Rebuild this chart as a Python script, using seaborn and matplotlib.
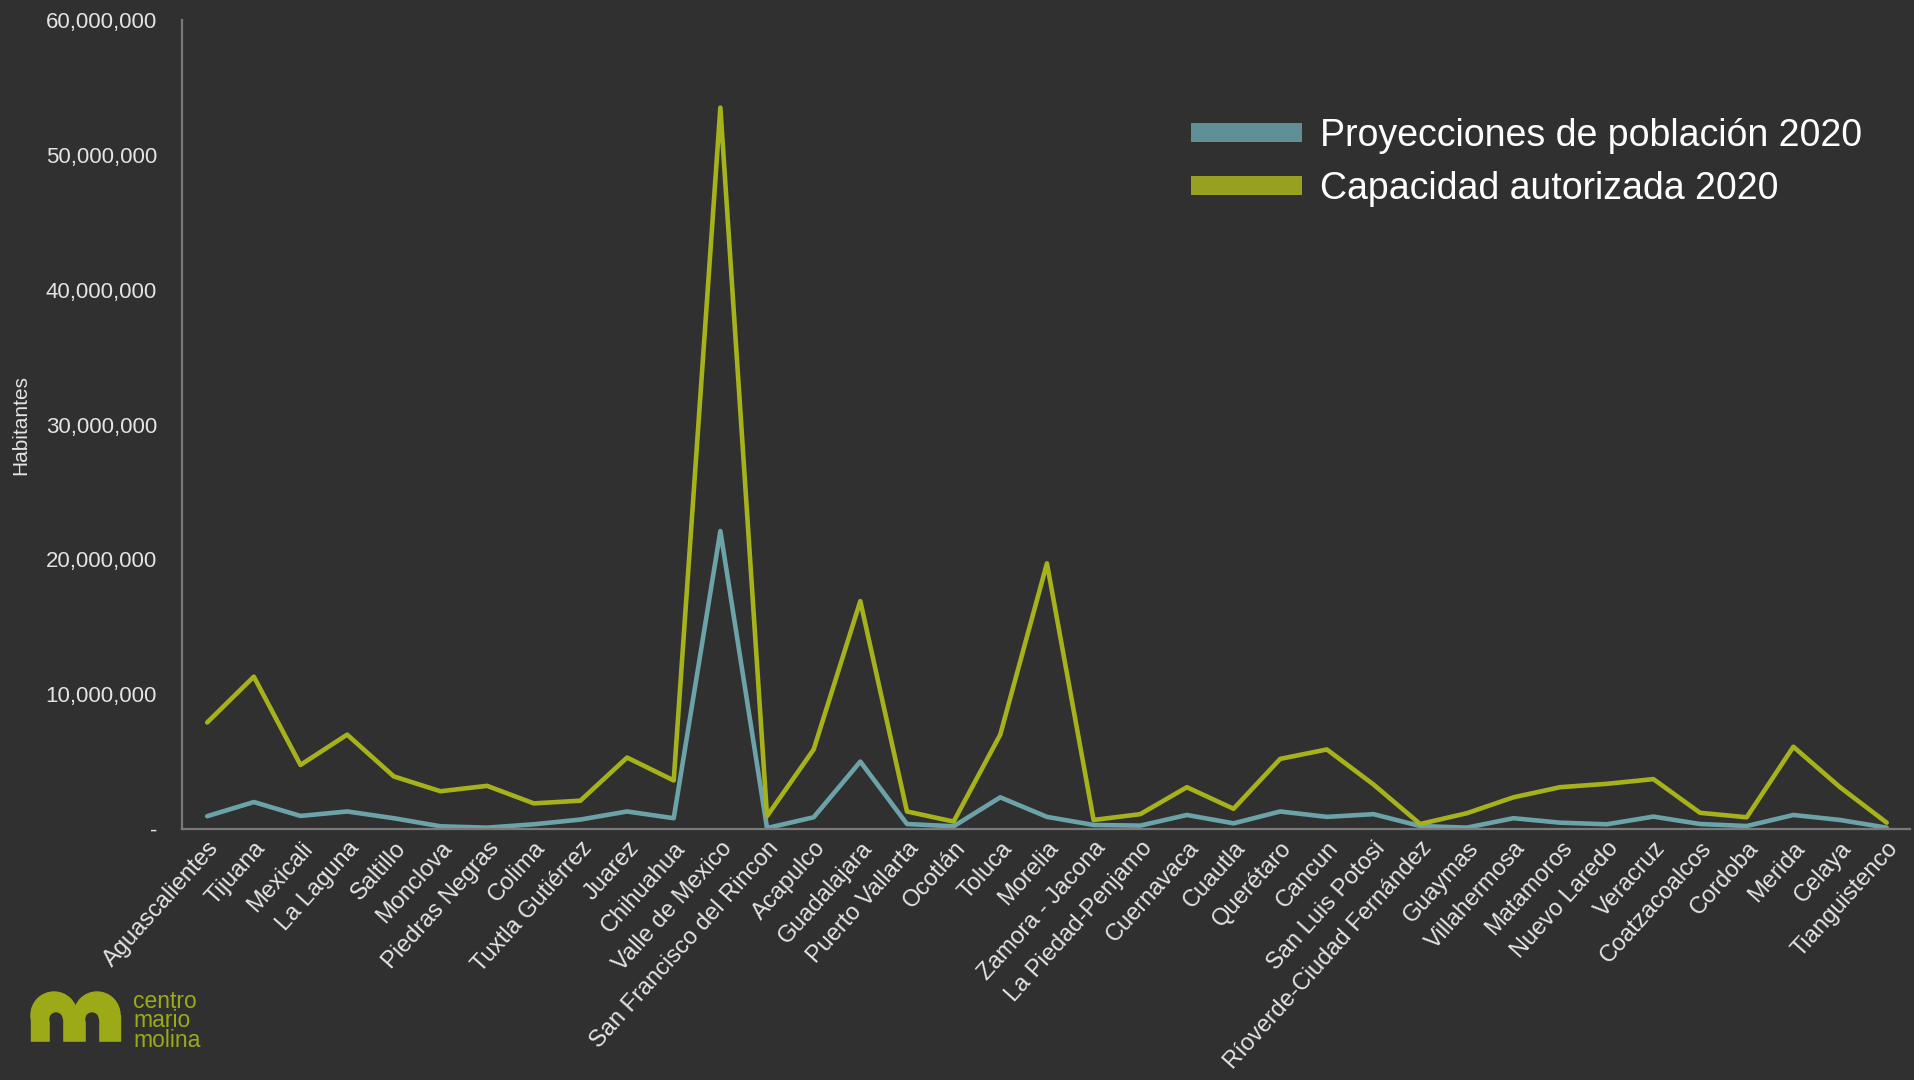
# ====================
#  LIBRARIES
# ====================

import pandas as pd
import numpy as np

import matplotlib
matplotlib.use('Agg')
import matplotlib.pyplot as plt
from matplotlib.patches import Patch, Ellipse, Circle, Rectangle
import seaborn as sns

# ====================
#  DATA
# ====================

ciudades = [
    'Aguascalientes', 'Tijuana', 'Mexicali', 'La Laguna', 'Saltillo', 'Monclova',
    'Piedras Negras', 'Colima', 'Tuxtla Gutiérrez', 'Juarez', 'Chihuahua',
    'Valle de Mexico', 'San Francisco del Rincon', 'Acapulco', 'Guadalajara',
    'Puerto Vallarta', 'Ocotlán', 'Toluca', 'Morelia', 'Zamora - Jacona',
    'La Piedad-Penjamo', 'Cuernavaca', 'Cuautla', 'Querétaro', 'Cancun',
    'San Luis Potosi', 'Ríoverde-Ciudad Fernández', 'Guaymas', 'Villahermosa',
    'Matamoros', 'Nuevo Laredo', 'Veracruz', 'Coatzacoalcos', 'Cordoba',
    'Merida', 'Celaya', 'Tianguistenco',
]

poblacion_2020 = [
    950000, 2000000, 970000, 1300000, 800000, 200000, 100000, 350000, 700000,
    1300000, 800000, 22100000, 70000, 870000, 5000000, 370000, 200000, 2350000,
    900000, 300000, 250000, 1040000, 420000, 1300000, 900000, 1100000, 220000,
    100000, 800000, 470000, 350000, 920000, 370000, 220000, 1040000, 670000,
    100000,
]

capacidad_2020 = [
    7900000, 11300000, 4750000, 7000000, 3900000, 2800000, 3200000, 1900000,
    2100000, 5300000, 3600000, 53500000, 950000, 5900000, 16900000, 1300000,
    550000, 7000000, 19700000, 670000, 1100000, 3100000, 1500000, 5200000,
    5900000, 3300000, 370000, 1170000, 2350000, 3100000, 3350000, 3700000,
    1200000, 870000, 6100000, 3100000, 470000,
]

series_names = ['Proyecciones de población 2020', 'Capacidad autorizada 2020']
y_ticks = [0, 10000000, 20000000, 30000000, 40000000, 50000000, 60000000]
y_tick_labels = ['-', '10,000,000', '20,000,000', '30,000,000',
                 '40,000,000', '50,000,000', '60,000,000']

# colours
BG = '#303030'
TEXT = '#E4E4E4'
LINE_COLORS = {series_names[0]: '#6BA3A9', series_names[1]: '#A6B21C'}
LEGEND_COLORS = ['#5E9096', '#97A020']
LOGO = '#9DAA18'

# ====================
#  PLOT
# ====================

sns.set_theme(style='dark', rc={'axes.facecolor': BG, 'figure.facecolor': BG})
plt.rcParams['font.family'] = ['Liberation Sans', 'DejaVu Sans']

df = pd.DataFrame({
    'idx': list(range(len(ciudades))) * 2,
    'valor': poblacion_2020 + capacidad_2020,
    'serie': [series_names[0]] * len(ciudades) + [series_names[1]] * len(ciudades),
})

fig = plt.figure(figsize=(19.15, 10.8), dpi=100)
ax = fig.add_axes([182 / 1915, 1 - 829 / 1080, (1910 - 182) / 1915, (829 - 20) / 1080])

sns.lineplot(data=df, x='idx', y='valor', hue='serie', palette=LINE_COLORS,
             linewidth=3.3, ax=ax, legend=False)

ax.set_xlim(-0.54, len(ciudades) - 0.5)
ax.set_ylim(0, 60000000)
ax.set_xlabel('')
ax.set_ylabel('')

ax.set_yticks(y_ticks)
ax.set_yticklabels(y_tick_labels)
ax.set_xticks(range(len(ciudades)))
ax.set_xticklabels(ciudades, rotation=48, ha='right', va='top', rotation_mode='anchor')

ax.tick_params(axis='y', length=0, pad=18, labelsize=16, colors=TEXT)
ax.tick_params(axis='x', length=0, pad=6, labelsize=17, colors=TEXT)

for side in ['top', 'right']:
    ax.spines[side].set_visible(False)
for side in ['left', 'bottom']:
    ax.spines[side].set_visible(True)
    ax.spines[side].set_color('#7A7A7A')
    ax.spines[side].set_linewidth(1.6)
ax.grid(False)

fig.text(21 / 1915, 1 - 425 / 1080, 'Habitantes', rotation=90,
         ha='center', va='center', fontsize=15, color=TEXT)

# legend
handles = [Patch(facecolor=c, edgecolor='none') for c in LEGEND_COLORS]
fig.legend(handles, series_names, loc='upper left',
           bbox_to_anchor=(1191 / 1915, 1 - 118 / 1080), frameon=False,
           fontsize=27, handlelength=2.95, handleheight=0.42,
           handletextpad=0.5, labelspacing=0.45, borderpad=0, borderaxespad=0,
           labelcolor='white')

# logo
lax = fig.add_axes([30 / 1915, 1 - 1045 / 1080, 92 / 1915, 55 / 1080])
lax.set_xlim(0, 92)
lax.set_ylim(0, 55)
lax.axis('off')
lax.add_patch(Ellipse((24, 30), 46, 46, color=LOGO))
lax.add_patch(Ellipse((67, 30), 46, 46, color=LOGO))
lax.add_patch(Rectangle((1, 3), 89, 27, color=LOGO))
lax.add_patch(Rectangle((20, 0), 12, 26, color=BG))
lax.add_patch(Circle((26, 26), 6, color=BG))
lax.add_patch(Rectangle((56, 0), 12, 26, color=BG))
lax.add_patch(Circle((62, 26), 6, color=BG))
lax.add_patch(Rectangle((0, 0), 92, 3, color=BG))
fig.text(133 / 1915, 1 - 990 / 1080, 'centro\nmario\nmolina', ha='left', va='top',
         fontsize=16.5, color=LOGO, linespacing=0.8)

plt.savefig('out.png', dpi=100, facecolor=BG)
plt.close()
